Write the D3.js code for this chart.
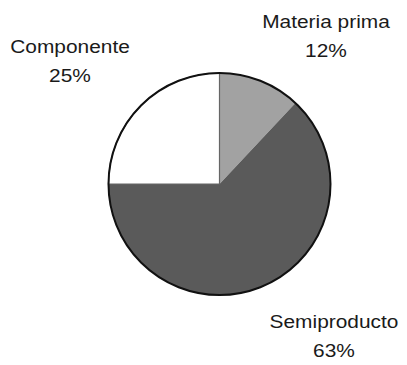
<!DOCTYPE html>
<html><head><meta charset="utf-8">
<script src="https://cdn.jsdelivr.net/npm/d3@7"></script>
<style>html,body{margin:0;padding:0;background:#fff;}</style>
</head><body>
<svg id="chart" width="407" height="365"></svg>
<script>
const categories = ["Materia prima", "Semiproducto", "Componente"];
const values = [12, 63, 25];
const valueLabels = ["12%", "63%", "25%"];
const colors = ["#a2a2a2", "#5a5a5a", "#ffffff"];
const labelPos = [[326, 28], [334, 328], [70, 53]];

const svg = d3.select("#chart");
const cx = 219.5, cy = 184, r = 111;
const g = svg.append("g").attr("transform", `translate(${cx},${cy})`);
const pie = d3.pie().sort(null).value(d => d)(values);
const arc = d3.arc().innerRadius(0).outerRadius(r);
g.selectAll("path.slice").data(pie).enter().append("path")
  .attr("class", "slice")
  .attr("d", arc)
  .attr("fill", (d, i) => colors[i])
  .attr("stroke", (d, i) => i === 2 ? "#666" : "none")
  .attr("stroke-width", 1.2);
g.append("circle").attr("r", r).attr("fill", "none").attr("stroke", "#111").attr("stroke-width", 2);

const lab = svg.append("g").attr("font-family", "Liberation Sans, Arial, sans-serif")
  .attr("font-size", 18.5).attr("fill", "#1a1a1a").attr("text-anchor", "middle");
categories.forEach((c, i) => {
  const [x, y] = labelPos[i];
  const t = lab.append("g").attr("transform", `translate(${x},${y}) scale(1.13,1)`);
  t.append("text").attr("x", 0).attr("y", 0).text(c);
  t.append("text").attr("x", 0).attr("y", 29.5).text(valueLabels[i]);
});
</script>
</body></html>
